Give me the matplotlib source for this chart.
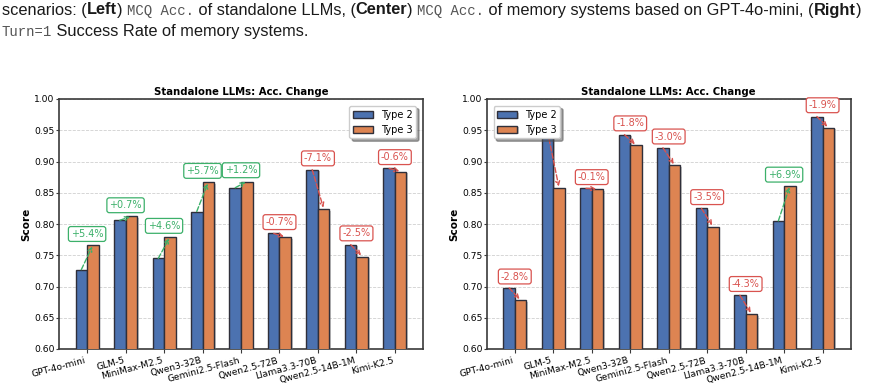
import matplotlib
matplotlib.use("Agg")
import matplotlib.pyplot as plt
import matplotlib.patheffects as pe
import numpy as np

# ---------------- data ----------------
models = ["GPT-4o-mini", "GLM-5", "MiniMax-M2.5", "Qwen3-32B", "Gemini2.5-Flash",
          "Qwen2.5-72B", "Llama3.3-70B", "Qwen2.5-14B-1M", "Kimi-K2.5"]
series_names = ["Type 2", "Type 3"]
panel_title = "Standalone LLMs: Acc. Change"
y_label = "Score"
y_ticks = [0.60, 0.65, 0.70, 0.75, 0.80, 0.85, 0.90, 0.95, 1.00]

left_type2 = [0.727, 0.806, 0.745, 0.820, 0.858, 0.785, 0.887, 0.767, 0.889]
left_type3 = [0.766, 0.812, 0.779, 0.867, 0.868, 0.779, 0.824, 0.748, 0.884]
left_change = ["+5.4%", "+0.7%", "+4.6%", "+5.7%", "+1.2%", "-0.7%", "-7.1%", "-2.5%", "-0.6%"]

right_type2 = [0.698, 0.948, 0.857, 0.943, 0.922, 0.825, 0.686, 0.805, 0.972]
right_type3 = [0.678, 0.858, 0.856, 0.926, 0.894, 0.796, 0.656, 0.861, 0.954]
right_change = ["-2.8%", None, "-0.1%", "-1.8%", "-3.0%", "-3.5%", "-4.3%", "+6.9%", "-1.9%"]

caption_line1 = [("scenarios: (", "n"), ("Left", "b"), (") ", "n"), ("MCQ Acc.", "m"),
                 (" of standalone LLMs, (", "n"), ("Center", "b"), (") ", "n"),
                 ("MCQ Acc.", "m"), (" of memory systems based on GPT-4o-mini, (", "n"),
                 ("Right", "b"), (")", "n")]
caption_line2 = [("Turn=1", "m"), (" Success Rate of memory systems.", "n")]

# ---------------- style ----------------
BLUE = "#4C72B0"
ORANGE = "#DD8452"
GREEN = "#3cb06a"
RED = "#d9534f"
EDGE = "#2f2f3a"

W, H = 869, 386
fig = plt.figure(figsize=(W / 100, H / 100), dpi=100)
renderer = fig.canvas.get_renderer()

styles = {
    "n": dict(family="Liberation Sans", color="#1a1a1a"),
    "b": dict(family="Liberation Sans", weight="bold", color="#1a1a1a"),
    "m": dict(family="Liberation Mono", color="#555555"),
}
size_factor = {"n": 1.0, "b": 1.0, "m": 0.85}


def text_w(s, fs, st):
    f = fs * size_factor[st]
    t1 = fig.text(0, 0, s + "|", fontsize=f, **styles[st])
    w1 = t1.get_window_extent(renderer).width
    t1.remove()
    t2 = fig.text(0, 0, "|", fontsize=f, **styles[st])
    w2 = t2.get_window_extent(renderer).width
    t2.remove()
    return w1 - w2


base_fs = 10.0
tot = sum(text_w(s, base_fs, st) for s, st in caption_line1)
cap_fs = base_fs * 862.0 / tot


def draw_line(pieces, x0, y_base):
    x = x0
    for s, st in pieces:
        fig.text(x / W, 1 - y_base / H, s, fontsize=cap_fs * size_factor[st],
                 va="baseline", ha="left", **styles[st])
        x += text_w(s, cap_fs, st)


draw_line(caption_line1, 2, 14.5)
draw_line(caption_line2, 2, 36.0)

# ---------------- panels ----------------
ax_w = 364 / W
ax_h = 250 / H
ax_b = 37 / H
axL = fig.add_axes([59 / W, ax_b, ax_w, ax_h])
axR = fig.add_axes([486.7 / W, ax_b, ax_w, ax_h])

bw = 0.30
shadow = [pe.SimplePatchShadow(offset=(1.2, -1.2), shadow_rgbFace="#888888", alpha=0.45),
          pe.Normal()]


def panel(ax, t2, t3, changes, legend_loc):
    x = np.arange(len(models))
    b2 = ax.bar(x - bw / 2, t2, bw, color=BLUE, edgecolor=EDGE, linewidth=1.0,
                label=series_names[0], zorder=3)
    b3 = ax.bar(x + bw / 2, t3, bw, color=ORANGE, edgecolor=EDGE, linewidth=1.0,
                label=series_names[1], zorder=3)
    for p in list(b2) + list(b3):
        p.set_path_effects(shadow)
    for i in range(len(models)):
        a, b = t2[i], t3[i]
        col = GREEN if b >= a else RED
        ax.annotate("", xy=(x[i] + bw / 2, b), xytext=(x[i] - bw / 2, a),
                    arrowprops=dict(arrowstyle="->", color=col, lw=1.0, ls="--",
                                    shrinkA=0, shrinkB=1, mutation_scale=7),
                    zorder=4)
        if changes[i] is not None:
            ax.text(x[i], max(a, b) + 0.018, changes[i], ha="center", va="center",
                    fontsize=7, color=col, zorder=5,
                    bbox=dict(boxstyle="round,pad=0.25", fc="white", ec=col, lw=0.9))
    ax.set_ylim(0.6, 1.0)
    ax.set_yticks(y_ticks)
    ax.set_yticklabels([f"{v:.2f}" for v in y_ticks], fontsize=6.6)
    ax.set_xticks(x)
    ax.set_xticklabels(models, rotation=15, ha="right", fontsize=6.6)
    ax.set_ylabel(y_label, fontsize=7.5, fontweight="bold", labelpad=2)
    ax.set_title(panel_title, fontsize=7.3, fontweight="bold", pad=3)
    ax.yaxis.grid(True, ls="--", color="#d0d0d0", lw=0.6, zorder=0)
    ax.set_axisbelow(True)
    for sp in ax.spines.values():
        sp.set_color("#3a3a3a")
        sp.set_linewidth(1.2)
    ax.tick_params(axis="x", length=3, width=0.8, color="#3a3a3a", pad=2)
    ax.tick_params(axis="y", length=2, width=0.8, color="#3a3a3a", pad=1)
    leg = ax.legend(loc=legend_loc, fontsize=7, frameon=True, fancybox=True,
                    framealpha=1.0, shadow=True, borderaxespad=0.7)
    leg.set_zorder(10)


panel(axL, left_type2, left_type3, left_change, "upper right")
panel(axR, right_type2, right_type3, right_change, "upper left")

fig.savefig("out.png", dpi=100)
